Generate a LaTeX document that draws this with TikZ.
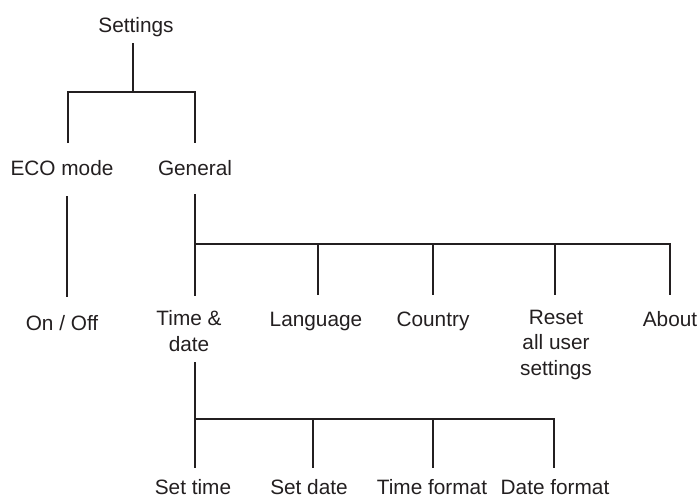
\documentclass[tikz,border=0pt]{standalone}
\usepackage{fontspec}
\setmainfont{Liberation Sans}
\definecolor{ink}{HTML}{231F20}
\begin{document}
\begin{tikzpicture}[x=1pt,y=1pt,
  lbl/.style={inner sep=0pt, anchor=base, align=center, text=ink,
    font=\fontsize{20.8pt}{25.5pt}\selectfont},
  conn/.style={draw=ink, line width=2.9pt, line join=miter, line cap=butt}]
\useasboundingbox (0,0) rectangle (699,-496);
% nodes
\node[lbl] (settings) at (136,-32) {Settings};
\node[lbl] (eco) at (62,-175) {ECO mode};
\node[lbl] (general) at (195,-175) {General};
\node[lbl] (onoff) at (62,-330) {On / Off};
\node[lbl] (timedate) at (189,-351) {Time \&\\date};
\node[lbl] (language) at (316,-326) {Language};
\node[lbl] (country) at (433,-326) {Country};
\node[lbl] (reset) at (556,-375) {Reset\\all user\\settings};
\node[lbl] (about) at (670,-326) {About};
\node[lbl] (settime) at (193,-494) {Set time};
\node[lbl] (setdate) at (309,-494) {Set date};
\node[lbl] (timeformat) at (432,-494) {Time format};
\node[lbl] (dateformat) at (555,-494) {Date format};
% junction coordinates
\coordinate (s0) at (133,-43);
\coordinate (s1) at (133,-92);
\coordinate (e0) at (68,-143);
\coordinate (g0) at (195,-143);
\coordinate (eco1) at (67,-196);
\coordinate (eco2) at (67,-297);
\coordinate (gen1) at (195,-194);
\coordinate (gj) at (195,-244);
\coordinate (td1) at (195,-362);
\coordinate (tj) at (195,-419);
% Settings
\draw[conn] (s0) -- (s1);
\draw[conn] (e0) -- (68,-92) -- (195,-92) -- (g0);
% ECO mode
\draw[conn] (eco1) -- (eco2);
% General
\draw[conn] (gen1) -- (195,-296);
\draw[conn] (gj) -- (670,-244) -- (670,-295);
\foreach \x in {318,433,555} \draw[conn] (\x,-244) -- (\x,-295);
% Time & date
\draw[conn] (td1) -- (195,-468);
\draw[conn] (tj) -- (554,-419) -- (554,-468);
\foreach \x in {313,433} \draw[conn] (\x,-419) -- (\x,-468);
\end{tikzpicture}
\end{document}
